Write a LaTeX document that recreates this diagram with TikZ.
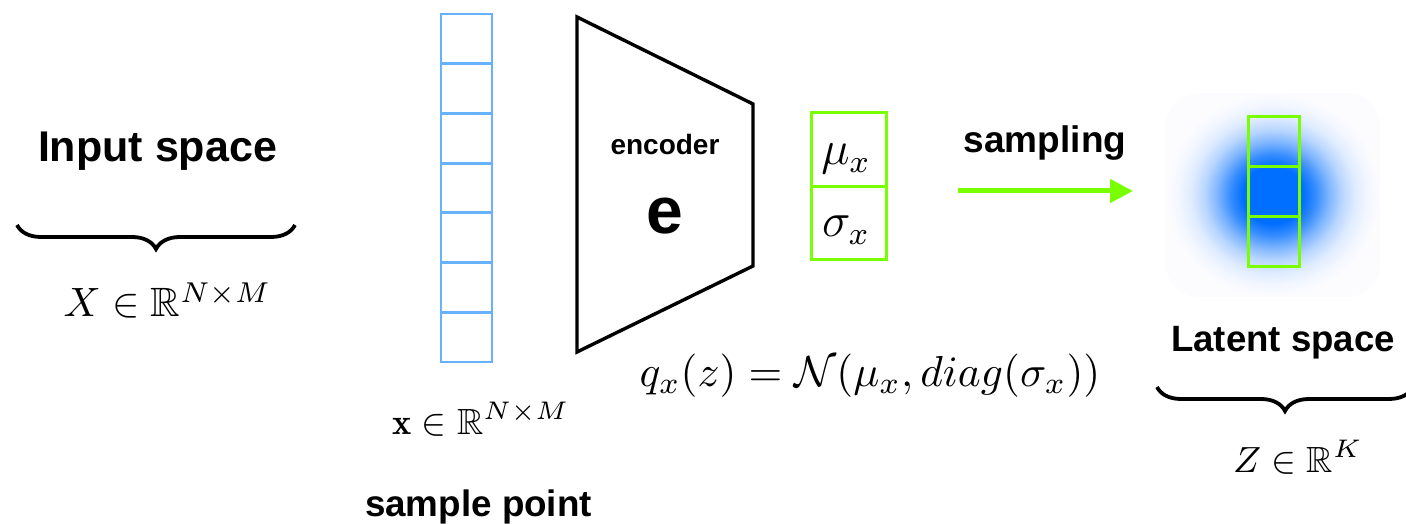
\RequirePackage{fix-cm}
\documentclass[tikz,border=0pt]{standalone}
\usepackage{amsmath,amssymb}
\usepackage{fontspec}
\newfontfamily\sansb{Liberation Sans}
\usetikzlibrary{arrows.meta,decorations.pathreplacing}

\definecolor{vecblue}{RGB}{102,178,255}
\definecolor{limeg}{RGB}{122,255,0}
\definecolor{latblue}{RGB}{0,110,255}
\definecolor{blobbg}{RGB}{252,252,255}
\pgfdeclareradialshading{blob}{\pgfpoint{0bp}{0bp}}{color(0bp)=(latblue); color(7bp)=(latblue); color(10bp)=(latblue!78!blobbg); color(13bp)=(latblue!50!blobbg); color(16bp)=(latblue!27!blobbg); color(19bp)=(latblue!12!blobbg); color(22bp)=(latblue!4!blobbg); color(25bp)=(blobbg); color(50bp)=(blobbg)}
\newcommand{\fs}[1]{\fontsize{#1}{#1}\selectfont}

\begin{document}
\begin{tikzpicture}[x=0.25pt,y=-0.25pt,
  lbl/.style={anchor=base,inner sep=0pt,font=\sansb\bfseries},
  mth/.style={anchor=base,inner sep=0pt},
  vcell/.style={draw=vecblue,line width=0.7pt,minimum width=12.75pt,minimum height=12.43pt,inner sep=0pt},
  gcell/.style={draw=limeg,line width=0.75pt,inner sep=0pt},
  brc/.style={decorate,decoration={brace,mirror,amplitude=6pt},line width=0.95pt},
  samp/.style={draw=limeg,line width=1.25pt,-{Triangle[length=5.75pt,width=5.75pt]}},
  enc/.style={draw=black,line width=0.85pt,line join=miter}]
\useasboundingbox (0,0) rectangle (1406,524);

% input space
\node[lbl] (inp) at (157.5,162) {\fs{10.75}Input space};
\coordinate (lb1) at (17,225);
\coordinate (lb2) at (295,225);
\draw[brc] (lb1) -- (lb2);
\node[mth] (Xsp) at (167.5,317) {\fs{10.25}$X\in\mathbb{R}^{N\times M}$};

% sample vector
\foreach \i in {0,...,6} {
  \node[vcell] (v\i) at (466.5,{38.85+49.7*\i}) {};
}
\node[mth] (xsp) at (481,435) {\fs{9.1}$\mathbf{x}\in\mathbb{R}^{N\times M}$};
\node[lbl] (sp) at (478.5,517) {\fs{9.2}sample point};

% encoder
\coordinate (e1) at (577,17);
\coordinate (e2) at (753,104);
\coordinate (e3) at (753,266);
\coordinate (e4) at (577,352);
\draw[enc] (e1) -- (e2) -- (e3) -- (e4) -- cycle;
\node[lbl] (enct) at (665,155) {\fs{7}encoder};
\node[lbl] (ee) at (665,234) {\fs{16.5}e};

% mu sigma
\node[gcell,minimum width=18.75pt,minimum height=18.5pt] (mucell) at (848.5,150) {};
\node[gcell,minimum width=18.75pt,minimum height=18.25pt] (sigcell) at (848.5,223.5) {};
\node[mth] (mu) at (846,165) {\fs{12}$\mu_x$};
\node[mth] (sig) at (846,237) {\fs{12}$\sigma_x$};
\node[mth] (qf) at (870,387) {\fs{10.85}$q_x(z) = \mathcal{N}(\mu_x, diag(\sigma_x))$};

% sampling
\node[lbl] (smp) at (1045,153) {\fs{9.25}sampling};
\coordinate (s0) at (958,191);
\coordinate (s1) at (1133,191);
\draw[samp] (s0) -- (s1);

% latent
\shade[shading=blob,rounded corners=8pt] (1166,93) rectangle (1380,297);
\node[gcell,minimum width=12.75pt,minimum height=12.5pt] (z0) at (1274,142) {};
\node[gcell,minimum width=12.75pt,minimum height=12.5pt] (z1) at (1274,192) {};
\node[gcell,minimum width=12.75pt,minimum height=12.5pt] (z2) at (1274,241.5) {};
\node[lbl] (lat) at (1283,352) {\fs{9.15}Latent space};
\coordinate (rb1) at (1157,387);
\coordinate (rb2) at (1413,387);
\draw[brc] (rb1) -- (rb2);
\node[mth] (Zsp) at (1298,473) {\fs{9.1}$Z\in\mathbb{R}^{K}$};
\end{tikzpicture}
\end{document}
